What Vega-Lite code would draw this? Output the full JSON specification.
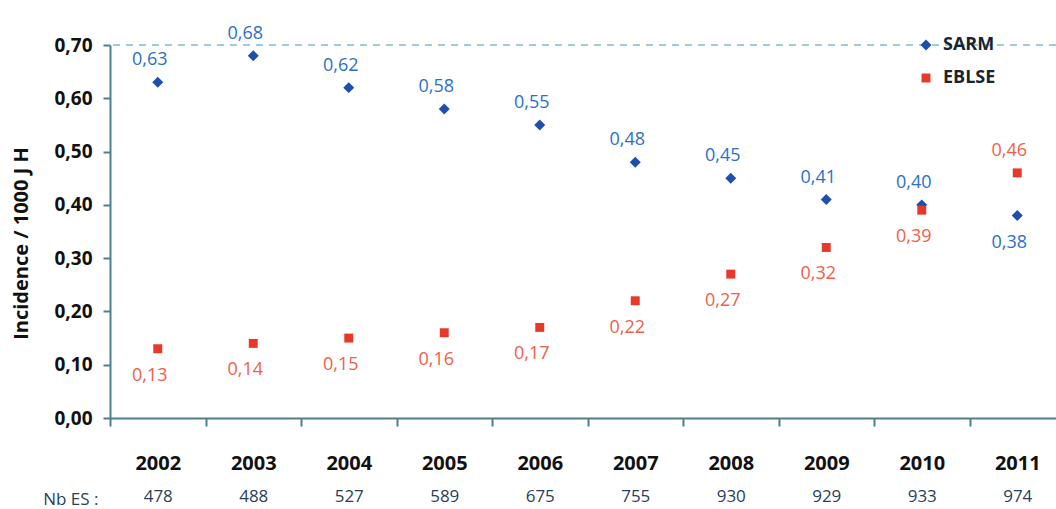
{
  "$schema": "https://vega.github.io/schema/vega-lite/v6.json",
  "width": 946,
  "height": 373,
  "autosize": "none",
  "padding": {"left": 110, "top": 45, "right": 0, "bottom": 91},
  "background": "white",
  "config": {
    "locale": {"number": {"decimal": ",", "thousands": " ", "grouping": [3], "currency": ["", " €"]}},
    "view": {"stroke": null},
    "font": "Open Sans"
  },
  "data": {"values": [
    {"year": "2002", "nb": "478", "series": "SARM", "value": 0.63, "pos": "above"},
    {"year": "2002", "nb": "478", "series": "EBLSE", "value": 0.13, "pos": "below"},
    {"year": "2003", "nb": "488", "series": "SARM", "value": 0.68, "pos": "above"},
    {"year": "2003", "nb": "488", "series": "EBLSE", "value": 0.14, "pos": "below"},
    {"year": "2004", "nb": "527", "series": "SARM", "value": 0.62, "pos": "above"},
    {"year": "2004", "nb": "527", "series": "EBLSE", "value": 0.15, "pos": "below"},
    {"year": "2005", "nb": "589", "series": "SARM", "value": 0.58, "pos": "above"},
    {"year": "2005", "nb": "589", "series": "EBLSE", "value": 0.16, "pos": "below"},
    {"year": "2006", "nb": "675", "series": "SARM", "value": 0.55, "pos": "above"},
    {"year": "2006", "nb": "675", "series": "EBLSE", "value": 0.17, "pos": "below"},
    {"year": "2007", "nb": "755", "series": "SARM", "value": 0.48, "pos": "above"},
    {"year": "2007", "nb": "755", "series": "EBLSE", "value": 0.22, "pos": "below"},
    {"year": "2008", "nb": "930", "series": "SARM", "value": 0.45, "pos": "above"},
    {"year": "2008", "nb": "930", "series": "EBLSE", "value": 0.27, "pos": "below"},
    {"year": "2009", "nb": "929", "series": "SARM", "value": 0.41, "pos": "above"},
    {"year": "2009", "nb": "929", "series": "EBLSE", "value": 0.32, "pos": "below"},
    {"year": "2010", "nb": "933", "series": "SARM", "value": 0.40, "pos": "above"},
    {"year": "2010", "nb": "933", "series": "EBLSE", "value": 0.39, "pos": "below"},
    {"year": "2011", "nb": "974", "series": "SARM", "value": 0.38, "pos": "below"},
    {"year": "2011", "nb": "974", "series": "EBLSE", "value": 0.46, "pos": "above"}
  ]},
  "layer": [
    {
      "encoding": {
        "x": {
          "field": "year", "type": "nominal", "sort": null,
          "scale": {"range": [0, 955], "paddingInner": 0, "paddingOuter": 0},
          "axis": {
            "orient": "bottom", "title": null, "tickBand": "extent",
            "domainColor": "#4f7f8c", "domainWidth": 2, "tickColor": "#4f7f8c", "tickWidth": 2, "tickSize": 8,
            "labelAngle": 0, "labelFont": "Open Sans", "labelFontWeight": "bold", "labelFontSize": 20,
            "labelColor": "#111111", "labelPadding": 27, "grid": false
          }
        },
        "y": {
          "field": "value", "type": "quantitative",
          "scale": {"domain": [0, 0.7], "nice": false, "zero": true},
          "axis": {
            "title": "Incidence / 1000 J H", "titleFont": "Open Sans", "titleFontWeight": "bold", "titleFontSize": 20,
            "titleColor": "#111111", "titlePadding": 22, "titleY": 198,
            "values": [0, 0.1, 0.2, 0.3, 0.4, 0.5, 0.6, 0.7], "format": ".2f",
            "labelFont": "Open Sans", "labelFontWeight": "bold", "labelFontSize": 19, "labelColor": "#111111",
            "labelPadding": 11,
            "domainColor": "#4f7f8c", "domainWidth": 2, "tickColor": "#4f7f8c", "tickWidth": 2, "tickSize": 7,
            "grid": false
          }
        }
      },
      "layer": [
        {
          "mark": {"type": "rule", "color": "#9ccbe6", "strokeDash": [7, 6], "strokeWidth": 1.5},
          "encoding": {"y": {"datum": 0.7}, "x": null}
        },
        {
          "mark": {"type": "point", "filled": true, "opacity": 1},
          "encoding": {
            "color": {
              "field": "series", "type": "nominal",
              "scale": {"domain": ["SARM", "EBLSE"], "range": ["#1f4fae", "#e8382a"]},
              "legend": {
                "title": null, "orient": "none", "legendX": 807, "legendY": -9, "padding": 0,
                "labelFont": "Open Sans", "labelFontWeight": "bold", "labelFontSize": 18, "labelColor": "#1a2430",
                "rowPadding": 15, "symbolSize": 90, "labelOffset": 8
              }
            },
            "shape": {
              "field": "series", "type": "nominal",
              "scale": {"domain": ["SARM", "EBLSE"], "range": ["diamond", "square"]}
            },
            "size": {
              "field": "series", "type": "nominal",
              "scale": {"domain": ["SARM", "EBLSE"], "range": [120, 80]},
              "legend": null
            }
          }
        },
        {
          "transform": [{"filter": "datum.pos === 'above'"}],
          "mark": {"type": "text", "dy": -22, "dx": -8, "font": "Open Sans", "fontSize": 18, "fontWeight": 500, "align": "center", "baseline": "middle"},
          "encoding": {
            "text": {"field": "value", "type": "quantitative", "format": ".2f"},
            "color": {"condition": {"test": "datum.series === 'SARM'", "value": "#2c70c8"}, "value": "#f0604a"}
          }
        },
        {
          "transform": [{"filter": "datum.pos === 'below'"}],
          "mark": {"type": "text", "dy": 27, "dx": -8, "font": "Open Sans", "fontSize": 18, "fontWeight": 500, "align": "center", "baseline": "middle"},
          "encoding": {
            "text": {"field": "value", "type": "quantitative", "format": ".2f"},
            "color": {"condition": {"test": "datum.series === 'SARM'", "value": "#2c70c8"}, "value": "#f0604a"}
          }
        }
      ]
    },
    {
      "mark": {"type": "point", "opacity": 0},
      "encoding": {
        "x": {
          "field": "nb", "type": "nominal", "sort": null,
          "scale": {"range": [0, 955], "paddingInner": 0, "paddingOuter": 0},
          "axis": {
            "orient": "bottom", "title": "Nb ES :", "titleFont": "Open Sans", "titleFontWeight": "normal",
            "titleFontSize": 17, "titleColor": "#2a3f5a", "titleAngle": 0, "titleAlign": "right",
            "titleBaseline": "middle", "titleX": -12, "titleY": 81,
            "domain": false, "ticks": false, "grid": false, "labelAngle": 0,
            "labelFont": "Open Sans", "labelFontSize": 17, "labelColor": "#2a3f5a", "labelPadding": 70
          }
        },
        "y": {"field": "value", "type": "quantitative"}
      }
    }
  ],
  "resolve": {"scale": {"x": "independent"}, "axis": {"x": "independent"}}
}
